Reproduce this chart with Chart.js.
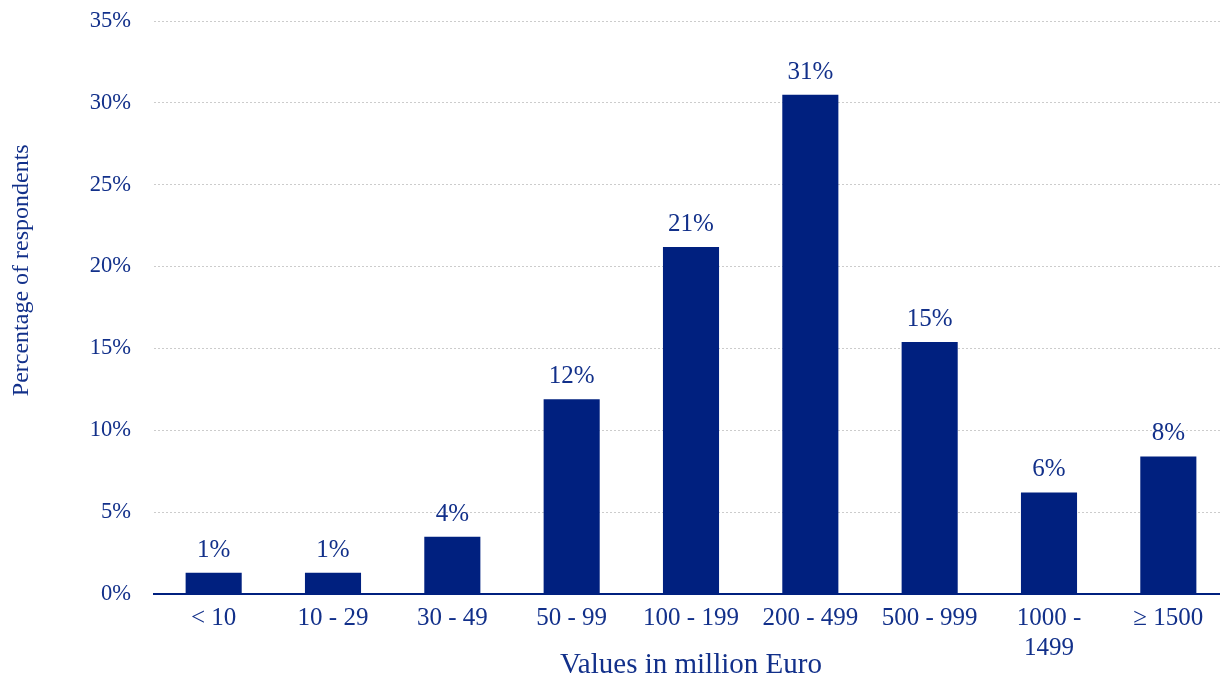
<!DOCTYPE html>
<html>
<head>
<meta charset="utf-8">
<script src="https://cdn.jsdelivr.net/npm/chart.js@4/dist/chart.umd.min.js"></script>
<style>
  html, body { margin: 0; padding: 0; background: #ffffff; overflow: hidden; }
  #wrap { width: 1220px; height: 679px; overflow: hidden; }
  canvas { display: block; }
</style>
</head>
<body>
<div id="wrap"><canvas id="chart" width="1228" height="679"></canvas></div>
<script>
// Survey: deal value ranges and share of respondents
const categories = ['< 10', '10 - 29', '30 - 49', '50 - 99', '100 - 199', '200 - 499', '500 - 999', ['1000 -', '1499'], '\u2265 1500'];
const shares = [1.3, 1.3, 3.5, 11.9, 21.2, 30.5, 15.4, 6.2, 8.4];
const yTicks = [0, 5, 10, 15, 20, 25, 30, 35];
const yTitle = 'Percentage of respondents';
const xTitle = 'Values in million Euro';

const navy = '#00207f';
const textNavy = '#12308a';
const serif = '"Liberation Serif", "Times New Roman", serif';

// Percent labels on top of each bar
const valueLabels = {
  id: 'valueLabels',
  afterDatasetsDraw(chart) {
    const ctx = chart.ctx;
    const meta = chart.getDatasetMeta(0);
    ctx.save();
    ctx.fillStyle = textNavy;
    ctx.font = '25px ' + serif;
    ctx.textAlign = 'center';
    ctx.textBaseline = 'alphabetic';
    meta.data.forEach((bar, i) => {
      ctx.fillText(Math.round(shares[i]) + '%', bar.x, bar.y - 16);
    });
    ctx.restore();
  }
};

// Rotated y-axis title at the left edge
const yAxisTitle = {
  id: 'yAxisTitle',
  afterDraw(chart) {
    const a = chart.chartArea;
    const ctx = chart.ctx;
    ctx.save();
    ctx.translate(22, a.top + (a.bottom - a.top) * 0.435);
    ctx.rotate(-Math.PI / 2);
    ctx.fillStyle = textNavy;
    ctx.font = '24px ' + serif;
    ctx.textAlign = 'center';
    ctx.textBaseline = 'middle';
    ctx.fillText(yTitle, 0, 0);
    ctx.restore();
  }
};

new Chart(document.getElementById('chart'), {
  type: 'bar',
  data: {
    labels: categories,
    datasets: [{
      data: shares,
      backgroundColor: navy,
      borderWidth: 0,
      barPercentage: 0.47,
      categoryPercentage: 1
    }]
  },
  options: {
    responsive: false,
    animation: false,
    layout: { padding: { top: 21, right: 0, bottom: 0, left: 0 } },
    plugins: {
      legend: { display: false },
      tooltip: { enabled: false }
    },
    scales: {
      x: {
        afterFit(scale) { scale.height = 85; },
        grid: { display: false, drawTicks: false },
        border: { display: true, color: navy, width: 2 },
        ticks: {
          color: textNavy,
          font: { family: serif, size: 25 },
          padding: 9,
          maxRotation: 0,
          autoSkip: false
        },
        title: {
          display: true,
          text: xTitle,
          color: textNavy,
          font: { family: serif, size: 29 },
          padding: { top: 0, bottom: -4 }
        }
      },
      y: {
        min: 0,
        max: 35,
        afterBuildTicks(scale) {
          scale.ticks = yTicks.map(v => ({ value: v }));
        },
        afterFit(scale) {
          scale.width = 154;
          scale.paddingTop = 0;
          scale.paddingBottom = 0;
        },
        grid: {
          color: '#cccccc',
          lineWidth: 1,
          drawTicks: false
        },
        border: { display: false, dash: [2, 2] },
        ticks: {
          color: textNavy,
          font: { family: serif, size: 22.5 },
          padding: 23,
          callback: v => v + '%'
        }
      }
    }
  },
  plugins: [valueLabels, yAxisTitle]
});
</script>
</body>
</html>
